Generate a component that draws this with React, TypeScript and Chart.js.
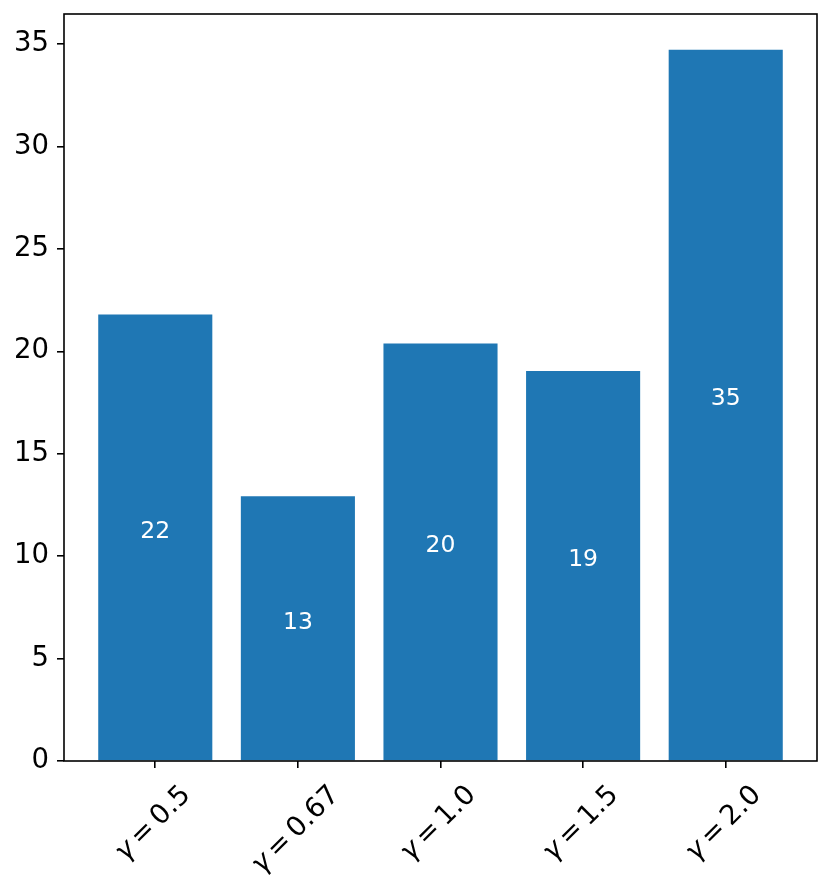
import React, { useEffect, useRef } from "react";
import { Chart, registerables } from "chart.js";

Chart.register(...registerables);

const categories: string[] = ["γ = 0.5", "γ = 0.67", "γ = 1.0", "γ = 1.5", "γ = 2.0"];
const values: number[] = [21.8, 12.93, 20.38, 19.04, 34.72];
const valueLabels: string[] = ["22", "13", "20", "19", "35"];
const yTicks: number[] = [0, 5, 10, 15, 20, 25, 30, 35];

const BAR_COLOR = "#1f77b4";
const FONT = "'DejaVu Sans', sans-serif";
const TICK_SIZE = 27.5;
const VALUE_SIZE = 23.5;

export default function App() {
  const ref = useRef<HTMLCanvasElement | null>(null);

  useEffect(() => {
    const canvas = ref.current;
    if (!canvas) return;

    const boxPlugin = {
      id: "boxPlugin",
      afterDatasetsDraw(chart: any) {
        const { ctx, scales } = chart;
        const meta = chart.getDatasetMeta(0);
        ctx.save();
        ctx.fillStyle = "#ffffff";
        ctx.font = `${VALUE_SIZE}px ${FONT}`;
        ctx.textAlign = "center";
        ctx.textBaseline = "alphabetic";
        meta.data.forEach((bar: any, i: number) => {
          const y = scales.y.getPixelForValue(values[i] / 2);
          ctx.fillText(valueLabels[i], bar.x, y);
        });
        ctx.restore();
      },
      afterDraw(chart: any) {
        const { ctx, chartArea, scales } = chart;
        ctx.save();
        ctx.strokeStyle = "#000000";
        ctx.lineWidth = 1.6;
        ctx.strokeRect(
          chartArea.left,
          chartArea.top,
          chartArea.right - chartArea.left,
          chartArea.bottom - chartArea.top
        );
        // rotated x labels (math style: italic gamma, upright "=" and digits)
        ctx.fillStyle = "#000000";
        ctx.textAlign = "left";
        ctx.textBaseline = "alphabetic";
        const italic = `italic ${TICK_SIZE}px ${FONT}`;
        const upright = `${TICK_SIZE}px ${FONT}`;
        categories.forEach((lab, i) => {
          const x = scales.x.getPixelForValue(i);
          const parts = lab.split(" ").filter((p) => p.length > 0); // [γ, =, num]
          ctx.font = italic;
          const mm = ctx.measureText("m");
          const gap = 0.2 * mm.width;
          const g = ctx.measureText(parts[0]);
          ctx.font = upright;
          const eq = ctx.measureText(parts[1]);
          const num = ctx.measureText(parts[2]);
          const startInk = g.actualBoundingBoxLeft;
          const total = g.width + gap + eq.width + gap + num.actualBoundingBoxRight + startInk;
          const A = Math.max(num.actualBoundingBoxAscent, g.actualBoundingBoxAscent);
          const D = Math.max(g.actualBoundingBoxDescent, num.actualBoundingBoxDescent);
          const H = A + D;
          const half = (total + H) / (2 * Math.SQRT2);
          const cx = x - 2;
          const cy = chartArea.bottom + 21 + half;
          ctx.save();
          ctx.translate(cx, cy);
          ctx.rotate(-Math.PI / 4);
          let px = -total / 2 + startInk;
          const by = (A - D) / 2;
          ctx.font = italic;
          ctx.fillText(parts[0], px, by);
          px += g.width + gap;
          ctx.font = upright;
          ctx.fillText(parts[1], px, by);
          px += eq.width + gap;
          ctx.fillText(parts[2], px, by);
          ctx.restore();
        });
        ctx.restore();
      },
    };

    const chart = new Chart(canvas, {
      type: "bar",
      data: {
        datasets: [
          {
            data: values.map((v, i) => ({ x: i, y: v })),
            backgroundColor: BAR_COLOR,
            borderWidth: 0,
            categoryPercentage: 0.8,
            barPercentage: 1,
          },
        ],
      },
      options: {
        animation: false,
        responsive: false,
        devicePixelRatio: 1,
        layout: { padding: { left: 0, top: 14, right: 14, bottom: 0 } },
        plugins: {
          legend: { display: false },
          tooltip: { enabled: false },
          title: { display: false },
        },
        scales: {
          x: {
            type: "linear",
            min: -0.64,
            max: 4.64,
            offset: false,
            afterBuildTicks: (scale: any) => {
              scale.ticks = categories.map((_, i) => ({ value: i }));
            },
            afterFit: (scale: any) => {
              scale.height = 894 - 761;
              scale.paddingLeft = 0;
              scale.paddingRight = 0;
            },
            ticks: { display: false },
            grid: {
              offset: false,
              drawOnChartArea: false,
              drawTicks: true,
              tickLength: 7,
              color: "#000000",
              lineWidth: 1.6,
            },
            border: { display: false },
          },
          y: {
            type: "linear",
            min: 0,
            max: 36.47,
            afterBuildTicks: (scale: any) => {
              scale.ticks = yTicks.map((v) => ({ value: v }));
            },
            afterFit: (scale: any) => {
              scale.width = 64;
              scale.paddingTop = 0;
              scale.paddingBottom = 0;
            },
            ticks: {
              color: "#000000",
              font: { family: FONT, size: TICK_SIZE },
              padding: 8,
            },
            grid: {
              drawOnChartArea: false,
              drawTicks: true,
              tickLength: 7,
              color: "#000000",
              lineWidth: 1.6,
            },
            border: { display: false },
          },
        },
      },
      plugins: [boxPlugin],
    } as any);

    return () => chart.destroy();
  }, []);

  return (
    <div style={{ position: "absolute", left: 0, top: 0, width: 831, height: 894, background: "#fff" }}>
      <canvas ref={ref} width={831} height={894} />
    </div>
  );
}
